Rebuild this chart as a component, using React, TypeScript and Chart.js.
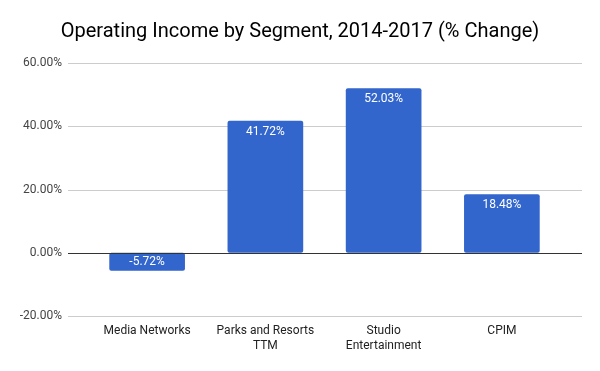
import React, { useEffect, useRef } from "react";
import { Chart, registerables } from "chart.js";

Chart.register(...registerables);

const categories: (string | string[])[] = [
  "Media Networks",
  ["Parks and Resorts", "TTM"],
  ["Studio", "Entertainment"],
  "CPIM",
];
const changePct = [-5.72, 41.72, 52.03, 18.48];
const yTicks = [-20, 0, 20, 40, 60];
const titleText = "Operating Income by Segment, 2014-2017 (% Change)";

const FONT = "Roboto, 'Noto Sans', sans-serif";

const gridPlugin = {
  id: "extGrid",
  beforeDatasetsDraw(chart: any) {
    const { ctx, chartArea, scales } = chart;
    const y = scales.y;
    ctx.save();
    ctx.lineWidth = 1;
    for (const t of yTicks) {
      if (t === 0) continue;
      const py = Math.round(y.getPixelForValue(t)) + 0.5;
      ctx.strokeStyle = "#cccccc";
      ctx.beginPath();
      ctx.moveTo(chartArea.left - 20, py);
      ctx.lineTo(chartArea.right + 21, py);
      ctx.stroke();
    }
    ctx.restore();
  },
  afterDatasetsDraw(chart: any) {
    const { ctx, chartArea, scales } = chart;
    const y = scales.y;
    ctx.save();
    const py = Math.round(y.getPixelForValue(0)) + 0.5;
    ctx.strokeStyle = "#333333";
    ctx.lineWidth = 1;
    ctx.beginPath();
    ctx.moveTo(chartArea.left - 20, py);
    ctx.lineTo(chartArea.right + 21, py);
    ctx.stroke();

    // value labels inside bars
    const meta = chart.getDatasetMeta(0);
    ctx.font = `12px ${FONT}`;
    ctx.fillStyle = "#ffffff";
    ctx.textAlign = "center";
    ctx.textBaseline = "middle";
    meta.data.forEach((bar: any, i: number) => {
      const v = changePct[i];
      const ly = v >= 0 ? bar.y + 11 : bar.y - 9;
      ctx.fillText(v.toFixed(2) + "%", bar.x, ly);
    });

    // title
    ctx.font = `20px ${FONT}`;
    ctx.fillStyle = "#000000";
    ctx.fillText(titleText, 300, 32);
    ctx.restore();
  },
};

export default function App() {
  const ref = useRef<HTMLCanvasElement>(null);
  useEffect(() => {
    if (!ref.current) return;
    const chart = new Chart(ref.current, {
      type: "bar",
      data: {
        labels: categories,
        datasets: [
          {
            data: changePct,
            backgroundColor: "#3366cc",
            borderRadius: 2,
            borderSkipped: false,
            categoryPercentage: 1,
            barPercentage: 0.64,
          },
        ],
      },
      options: {
        responsive: false,
        animation: false,
        devicePixelRatio: 1,
        layout: { padding: { top: 63, right: 39, bottom: 0, left: 0 } },
        plugins: {
          legend: { display: false },
          title: { display: false },
          tooltip: { enabled: false },
        },
        scales: {
          x: {
            grid: { display: false, drawTicks: false },
            border: { display: false },
            ticks: {
              padding: 7,
              color: "#222222",
              font: { family: FONT, size: 12, lineHeight: 1.25 },
              maxRotation: 0,
              autoSkip: false,
            },
            afterFit: (s: any) => {
              s.height = 55;
            },
          },
          y: {
            min: -20,
            max: 60,
            afterBuildTicks: (s: any) => {
              s.ticks = yTicks.map((v) => ({ value: v }));
            },
            grid: { display: false, drawTicks: false },
            border: { display: false },
            ticks: {
              padding: 26,
              color: "#444444",
              font: { family: FONT, size: 12 },
              callback: (v: any) => Number(v).toFixed(2) + "%",
            },
            afterFit: (s: any) => {
              s.width = 88;
            },
          },
        },
      },
      plugins: [gridPlugin],
    });
    return () => chart.destroy();
  }, []);
  return (
    <div style={{ position: "absolute", left: 0, top: 0, width: 600, height: 371, background: "#fff" }}>
      <canvas ref={ref} width={600} height={371} style={{ display: "block" }} />
    </div>
  );
}
